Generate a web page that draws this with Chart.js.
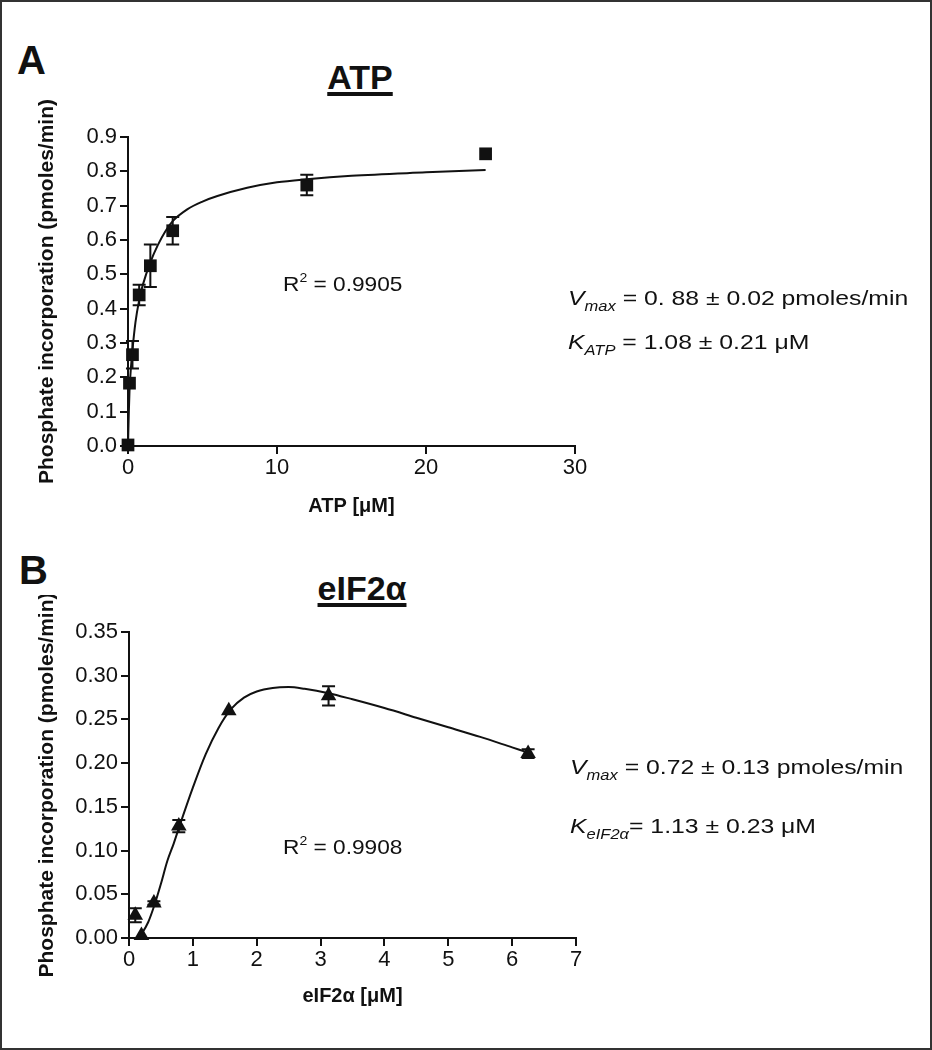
<!DOCTYPE html>
<html>
<head>
<meta charset="utf-8">
<script src="https://cdn.jsdelivr.net/npm/chart.js@4.4.1/dist/chart.umd.min.js"></script>
<style>
body { margin: 0; background: #fff; font-family: "Liberation Sans", Arial, sans-serif; color: #111; }
#frame { position: absolute; left: 0; top: 0; width: 932px; height: 1050px; box-sizing: border-box; border: 2px solid #333; }
canvas { position: absolute; left: 0; }
.t { position: absolute; line-height: 1; white-space: nowrap; transform-origin: left center; }
.letter { font-weight: bold; font-size: 40px; }
.title { font-weight: bold; font-size: 34px; text-decoration: underline; text-decoration-thickness: 4px; text-underline-offset: 3px; transform: translateX(-50%); }
.note { font-size: 21px; transform: scaleX(1.18); }
.note sub { font-size: 14px; vertical-align: -6px; }
.r2 { font-size: 21px; transform: scaleX(1.08); }
.r2 sup { font-size: 13px; vertical-align: 9px; }
</style>
</head>
<body>
<div id="frame"></div>

<div class="t letter" style="left:17px; top:40px;">A</div>
<div class="t title" style="left:360px; top:60px;">ATP</div>
<canvas id="chartA" width="640" height="440" style="top:100px;"></canvas>
<div class="t r2" style="left:283px; top:271px;">R<sup>2</sup> = 0.9905</div>
<div class="t note" style="left:568px; top:287px;"><i>V</i><sub><i>max</i></sub> = 0. 88 &plusmn; 0.02 pmoles/min</div>
<div class="t note" style="left:568px; top:331px;"><i>K</i><sub><i>ATP</i></sub> = 1.08 &plusmn; 0.21 &mu;M</div>

<div class="t letter" style="left:19px; top:550px;">B</div>
<div class="t title" style="left:362px; top:571px;">eIF2&alpha;</div>
<canvas id="chartB" width="640" height="445" style="top:595px;"></canvas>
<div class="t r2" style="left:283px; top:834px;">R<sup>2</sup> = 0.9908</div>
<div class="t note" style="left:570px; top:756px;"><i>V</i><sub><i>max</i></sub> = 0.72 &plusmn; 0.13 pmoles/min</div>
<div class="t note" style="left:570px; top:815px;"><i>K</i><sub><i>eIF2&alpha;</i></sub>= 1.13 &plusmn; 0.23 &mu;M</div>

<script>
// Panel A: ATP titration
var atpConc = [0, 0.1, 0.3, 0.75, 1.5, 3, 12, 24];
var atpRate = [0.003, 0.183, 0.266, 0.44, 0.525, 0.627, 0.76, 0.851];
var atpErr = [0, 0, 0.04, 0.03, 0.062, 0.04, 0.03, 0];
// fitted curve
var atpFitX = [0, 0.05, 0.1, 0.2, 0.3, 0.5, 0.75, 1, 1.5, 2, 2.5, 3, 4, 5, 6, 8, 10, 12, 15, 20, 24];
var atpFitY = [0, 0.09, 0.16, 0.23, 0.28, 0.36, 0.425, 0.47, 0.535, 0.585, 0.625, 0.655, 0.69, 0.712, 0.728, 0.752, 0.768, 0.777, 0.787, 0.797, 0.804];
var atpXTicks = [0, 10, 20, 30];
var atpYTicks = [0, 0.1, 0.2, 0.3, 0.4, 0.5, 0.6, 0.7, 0.8, 0.9];

// Panel B: eIF2a titration
var eifConc = [0.098, 0.195, 0.39, 0.78, 1.5625, 3.125, 6.25];
var eifRate = [0.026, 0.003, 0.040, 0.128, 0.260, 0.277, 0.211];
var eifErr = [0.008, 0, 0.002, 0.007, 0, 0.011, 0.005];
var eifFitX = [0.15, 0.2, 0.3, 0.4, 0.5, 0.6, 0.7, 0.8, 1.0, 1.2, 1.4, 1.6, 1.8, 2.0, 2.25, 2.5, 2.75, 3.125, 3.5, 4, 4.5, 5, 5.5, 6, 6.25];
var eifFitY = [0, 0.005, 0.018, 0.038, 0.062, 0.088, 0.108, 0.13, 0.172, 0.21, 0.24, 0.262, 0.275, 0.282, 0.286, 0.287, 0.285, 0.280, 0.273, 0.263, 0.252, 0.241, 0.23, 0.218, 0.212];
var eifXTicks = [0, 1, 2, 3, 4, 5, 6, 7];
var eifYTicks = [0, 0.05, 0.1, 0.15, 0.2, 0.25, 0.3, 0.35];

Chart.defaults.font.family = '"Liberation Sans", Arial, sans-serif';
Chart.defaults.color = "#111";

function pairs(xs, ys) {
	return xs.map(function (x, i) { return { x: x, y: ys[i] }; });
}

// draws mean +/- error with caps, using the chart's own scales
var errorBars = {
	id: "errorBars",
	beforeDatasetsDraw: function (chart, args, opts) {
		var ctx = chart.ctx;
		var xs = chart.scales.x;
		var ys = chart.scales.y;
		var ds = chart.data.datasets[1];
		ctx.save();
		ctx.strokeStyle = "#111";
		ctx.lineWidth = 2;
		ds.data.forEach(function (p, i) {
			var e = opts.err[i];
			if (!e) return;
			var x = xs.getPixelForValue(p.x);
			var yt = ys.getPixelForValue(p.y + e);
			var yb = ys.getPixelForValue(p.y - e);
			ctx.beginPath();
			ctx.moveTo(x, yt); ctx.lineTo(x, yb);
			ctx.moveTo(x - 6.5, yt); ctx.lineTo(x + 6.5, yt);
			ctx.moveTo(x - 6.5, yb); ctx.lineTo(x + 6.5, yb);
			ctx.stroke();
		});
		ctx.restore();
	}
};

function makeChart(id, cfg) {
	return new Chart(document.getElementById(id), {
		type: "scatter",
		data: {
			datasets: [
				{
					data: pairs(cfg.fitX, cfg.fitY),
					showLine: true,
					pointRadius: 0,
					borderColor: "#111",
					borderWidth: 2,
					cubicInterpolationMode: "monotone",
					clip: false
				},
				{
					data: pairs(cfg.x, cfg.y),
					pointStyle: cfg.marker,
					pointRadius: cfg.radius,
					backgroundColor: "#111",
					borderColor: "#111",
					borderWidth: 0,
					clip: false
				}
			]
		},
		plugins: [errorBars],
		options: {
			responsive: false,
			animation: false,
			events: [],
			layout: { padding: { left: 0, top: 37, right: 640 - cfg.right, bottom: 0 } },
			plugins: {
				legend: { display: false },
				tooltip: { enabled: false },
				errorBars: { err: cfg.err }
			},
			scales: {
				x: {
					type: "linear",
					min: cfg.xTicks[0],
					max: cfg.xTicks[cfg.xTicks.length - 1],
					afterBuildTicks: function (s) { s.ticks = cfg.xTicks.map(function (v) { return { value: v }; }); },
					afterFit: function (s) { s.height = cfg.xHeight; },
					border: { color: "#111", width: 2 },
					grid: { drawOnChartArea: false, tickLength: 8, color: "#111", lineWidth: 2 },
					ticks: { font: { size: 22 }, padding: 1, color: "#111" },
					title: { display: true, text: cfg.xTitle, font: { size: 20, weight: "bold" }, padding: { top: 0, bottom: cfg.xTitlePad } }
				},
				y: {
					type: "linear",
					min: cfg.yTicks[0],
					max: cfg.yTicks[cfg.yTicks.length - 1],
					afterBuildTicks: function (s) { s.ticks = cfg.yTicks.map(function (v) { return { value: v }; }); },
					afterFit: function (s) { s.width = cfg.left; },
					border: { color: "#111", width: 2 },
					grid: { drawOnChartArea: false, tickLength: 8, color: "#111", lineWidth: 2 },
					ticks: {
						font: { size: 22 },
						padding: 3,
						color: "#111",
						callback: function (v) { return v.toFixed(cfg.digits); }
					},
					title: { display: true, text: "Phosphate incorporation (pmoles/min)", font: { size: 21, weight: "bold" }, padding: { top: 35, bottom: 0 } }
				}
			}
		}
	});
}

makeChart("chartA", {
	x: atpConc, y: atpRate, err: atpErr, fitX: atpFitX, fitY: atpFitY,
	xTicks: atpXTicks, yTicks: atpYTicks, digits: 1,
	marker: "rect", radius: 9,
	left: 128, right: 575, xHeight: 94, xTitlePad: 22, xTitle: "ATP [\u03bcM]"
});

makeChart("chartB", {
	x: eifConc, y: eifRate, err: eifErr, fitX: eifFitX, fitY: eifFitY,
	xTicks: eifXTicks, yTicks: eifYTicks, digits: 2,
	marker: "triangle", radius: 9,
	left: 129, right: 576, xHeight: 102, xTitlePad: 32, xTitle: "eIF2\u03b1 [\u03bcM]"
});
</script>
</body>
</html>
